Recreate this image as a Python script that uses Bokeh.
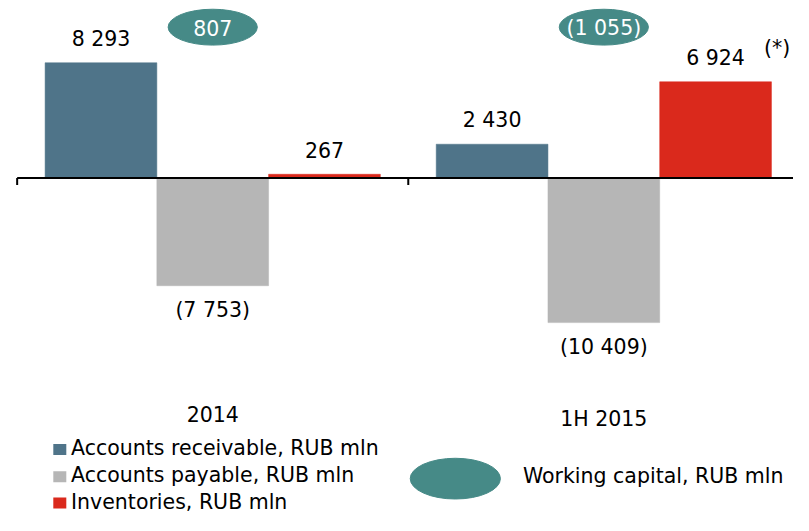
from bokeh.plotting import figure
from bokeh.models import Range1d, ColumnDataSource
from bokeh.core.properties import value
from bokeh.embed import file_html
from bokeh.resources import INLINE

# ---- data ----
periods = ["2014", "1H 2015"]
accounts_receivable = [8293, 2430]
accounts_payable = [-7753, -10409]
inventories = [267, 6924]
working_capital = [807, -1055]
series_names = ["Accounts receivable, RUB mln", "Accounts payable, RUB mln", "Inventories, RUB mln"]
working_capital_name = "Working capital, RUB mln"
footnote = "(*)"

# ---- style / layout ----
COLORS = ["#4F7489", "#B6B6B6", "#DA291C"]
TEAL = "#468A87"
FONT = value("DejaVu Sans")

W, H = 793, 515
SX = W / 809.0
SY = H / 531.0
FS = "20.5px"
TXT_DY = -8                    # baseline correction for text rendering

GROUP_PX = 399.0 * SX          # pixels per period group
UNITS_PER_PX = 69.8 / SY       # value units per vertical pixel
GROUP0_PX = 17 * SX            # left edge of first group
ZERO_PX = 183 * SY             # zero line from top

X0 = -GROUP0_PX / GROUP_PX
X1 = X0 + W / GROUP_PX
Y1 = ZERO_PX * UNITS_PER_PX
Y0 = Y1 - H * UNITS_PER_PX


def X(px):
    """layout pixel (reference frame) -> data x"""
    return X0 + px * SX / GROUP_PX


def Y(py):
    """layout pixel (reference frame) -> data y"""
    return (ZERO_PX - py * SY) * UNITS_PER_PX


def fmt(v):
    s = f"{abs(v):,}".replace(",", " ")
    return f"({s})" if v < 0 else s


p = figure(width=W, height=H, x_range=Range1d(X0, X1), y_range=Range1d(Y0, Y1),
           output_backend="svg", toolbar_location=None, min_border=0,
           x_axis_location=None, y_axis_location=None)
p.grid.visible = False
p.outline_line_color = None
p.background_fill_color = "white"
p.border_fill_color = "white"

BAR_W = 2 / 7
offsets = [0.5 - BAR_W, 0.5, 0.5 + BAR_W]
series = [accounts_receivable, accounts_payable, inventories]

for i, (vals, color) in enumerate(zip(series, COLORS)):
    src = ColumnDataSource(dict(
        x=[g + offsets[i] for g in range(len(periods))],
        top=vals,
        label=[fmt(v) for v in vals],
        off=[(-16 if v >= 0 else 32) + TXT_DY for v in vals],
    ))
    p.vbar(x="x", top="top", bottom=0, width=BAR_W, fill_color=color,
           line_color=color, line_width=0.5, source=src)
    p.text(x="x", y="top", text="label", y_offset="off", source=src,
           text_font=FONT, text_font_size=FS, text_color="#000000",
           text_align="center", text_baseline="alphabetic")

# axis line and group ticks
p.segment(x0=0, y0=0, x1=X1, y1=0, line_width=2, line_color="#000000")
p.segment(x0=list(range(len(periods))), y0=0, x1=list(range(len(periods))),
          y1=-7 * UNITS_PER_PX, line_width=2, line_color="#000000")

# working capital ellipses
wc_src = ColumnDataSource(dict(x=[g + 0.5 for g in range(len(periods))],
                               label=[fmt(v) for v in working_capital]))
p.ellipse(x="x", y=Y(27.5), width=91 * SX, height=37 * SY, width_units="screen",
          height_units="screen", fill_color=TEAL, line_color=TEAL, source=wc_src)
p.text(x="x", y=Y(27.5), text="label", y_offset=9 + TXT_DY, source=wc_src,
       text_font=FONT, text_font_size=FS, text_color="white",
       text_align="center", text_baseline="alphabetic")

# footnote mark
p.text(x=[X(779)], y=[Y(57)], text=[footnote], y_offset=TXT_DY, text_font=FONT,
       text_font_size=FS, text_color="#000000", text_align="left",
       text_baseline="alphabetic")

# category labels
p.text(x=[g + 0.5 for g in range(len(periods))], y=[Y(435), Y(440)], text=periods,
       y_offset=TXT_DY, text_font=FONT, text_font_size=FS, text_color="#000000",
       text_align="center", text_baseline="alphabetic")

# legend (manual)
row_sq = [463, 491, 518]
row_txt = [470, 498, 525]
p.rect(x=[X(60.5)] * 3, y=[Y(v) for v in row_sq], width=13, height=11,
       width_units="screen", height_units="screen", fill_color=COLORS, line_color=None)
p.text(x=[X(72)] * 3, y=[Y(v) for v in row_txt], text=series_names,
       y_offset=TXT_DY, text_font=FONT, text_font_size=FS, text_color="#000000",
       text_align="left", text_baseline="alphabetic")

p.ellipse(x=[X(464)], y=[Y(493)], width=92 * SX, height=42 * SY, width_units="screen",
          height_units="screen", fill_color=TEAL, line_color=TEAL)
p.text(x=[X(533)], y=[Y(499)], text=[working_capital_name], y_offset=TXT_DY,
       text_font=FONT, text_font_size=FS, text_color="#000000",
       text_align="left", text_baseline="alphabetic")

open("out.html", "w").write(file_html(p, INLINE))
